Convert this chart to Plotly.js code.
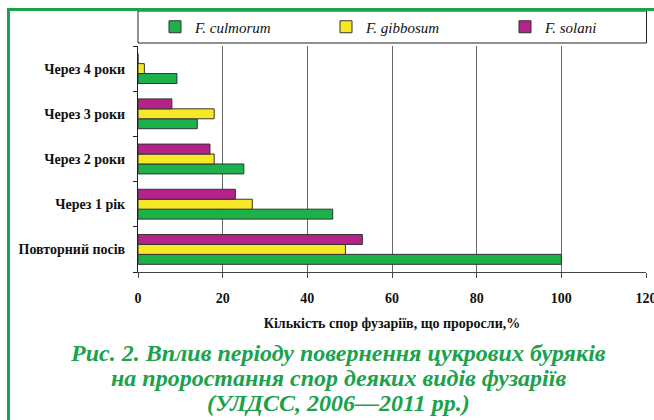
<!DOCTYPE html>
<html>
<head>
<meta charset="utf-8">
<script src="https://cdn.plot.ly/plotly-3.0.1.min.js"></script>
<style>html,body{margin:0;padding:0;background:#fff;}#chart{width:654px;height:420px;}</style>
</head>
<body>
<div id="chart"></div>
<script>
// Data
const categories = ["Повторний посів", "Через 1 рік", "Через 2 роки", "Через 3 роки", "Через 4 роки"];
const culmorum = [100, 46, 25, 14, 9.2];
const gibbosum = [49, 27, 18, 18, 1.5];
const solani = [53, 23, 17, 8, 0];
const seriesNames = ["F. culmorum", "F. gibbosum", "F. solani"];
const xTickValues = [0, 20, 40, 60, 80, 100, 120];
const xAxisTitle = "Кількість спор фузаріїв, що проросли,%";
const captionLines = [
  "Рис. 2. Вплив періоду повернення цукрових буряків",
  "на проростання спор деяких видів фузаріїв",
  "(УЛДСС, 2006—2011 рр.)"
];

const colors = ["#1db14c", "#f7e827", "#b5228a"];
const serif = "Liberation Serif";

// plot area in pixels
const W = 654, H = 420;
const L = 138, R = 646, T = 46, B = 272;
const px2x = p => (p - L) / (R - L);
const py2y = p => (B - p) / (B - T);

const values = [culmorum, gibbosum, solani];
const legendWidths = [126, 134, 60];
const traces = values.map((v, i) => ({
  type: "bar",
  orientation: "h",
  name: seriesNames[i],
  y: categories,
  x: v,
  legendwidth: legendWidths[i],
  marker: {color: colors[i], line: {color: "#333", width: 1}},
  hoverinfo: "x+y"
}));

const green = "#1aa24c";
const layout = {
  width: W, height: H,
  margin: {l: L, r: W - R, t: T, b: H - B, pad: 0},
  paper_bgcolor: "#fff",
  plot_bgcolor: "#fff",
  barmode: "group",
  bargap: 0.34,
  bargroupgap: 0,
  showlegend: true,
  legend: {
    orientation: "h",
    x: px2x(155), xanchor: "left",
    y: py2y(27), yanchor: "middle",
    bgcolor: "rgba(0,0,0,0)",
    borderwidth: 0,
    entrywidthmode: "pixels",
    traceorder: "normal",
    font: {family: serif, size: 15, color: "#111", style: "italic"}
  },
  xaxis: {
    range: [0, 120],
    tickvals: xTickValues,
    ticks: "outside", ticklen: 5, tickcolor: "#444",
    showline: true, linecolor: "#444", linewidth: 1,
    showgrid: true, gridcolor: "#666", gridwidth: 1,
    zeroline: false,
    ticklabelstandoff: 8,
    ticklabeloverflow: "allow",
    tickfont: {family: serif, size: 14, color: "#111", weight: "bold"},
    title: {text: xAxisTitle, standoff: 13, font: {family: serif, size: 14, color: "#111", weight: "bold"}},
    fixedrange: true
  },
  yaxis: {
    type: "category",
    categoryorder: "array", categoryarray: categories,
    tickson: "boundaries",
    ticks: "outside", ticklen: 4, tickcolor: "#222",
    showline: true, linecolor: "#222", linewidth: 1,
    showgrid: false, zeroline: false,
    ticklabelstandoff: 9,
    tickfont: {family: serif, size: 14, color: "#111", weight: "bold"},
    fixedrange: true
  },
  shapes: [
    // legend box
    {type: "rect", xref: "paper", yref: "paper", x0: px2x(138), x1: px2x(646.5), y0: py2y(11), y1: py2y(43),
     line: {color: "#222", width: 1}, fillcolor: "rgba(0,0,0,0)"},
    // green frame: top and left
    {type: "line", xref: "paper", yref: "paper", x0: px2x(7), x1: px2x(660), y0: py2y(9.5), y1: py2y(9.5),
     line: {color: green, width: 3}},
    {type: "line", xref: "paper", yref: "paper", x0: px2x(8.5), x1: px2x(8.5), y0: py2y(8), y1: py2y(425),
     line: {color: green, width: 3}}
  ],
  annotations: captionLines.map((t, i) => ({
    text: t, xref: "paper", yref: "paper",
    x: px2x(338), y: py2y(353 + 25 * i),
    xanchor: "center", yanchor: "middle", showarrow: false,
    font: {family: serif, size: 24, color: green, weight: "bold", style: "italic"}
  }))
};

Plotly.newPlot("chart", traces, layout, {displayModeBar: false, staticPlot: true});
</script>
</body>
</html>
